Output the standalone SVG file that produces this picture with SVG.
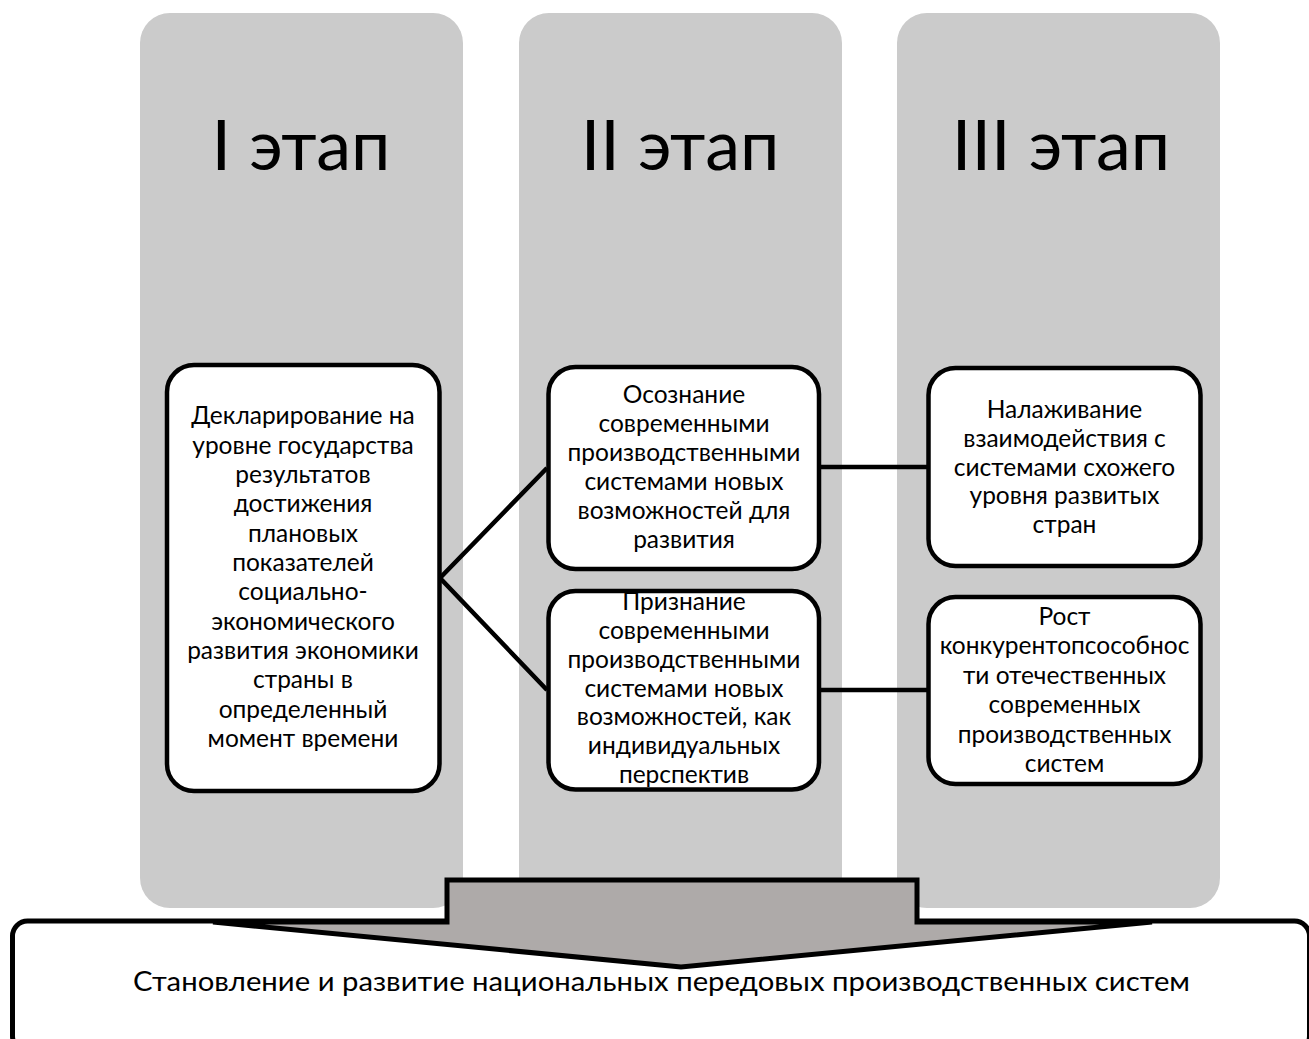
<svg xmlns="http://www.w3.org/2000/svg" width="1309" height="1039" viewBox="0 0 1309 1039">
<style>
.col{fill:#cbcbcb;stroke:none}
.box{fill:#ffffff;stroke:#000000;stroke-width:4.5}
.title{font-family:Lato,"Liberation Sans",sans-serif;font-size:70px;fill:#000;text-anchor:middle}
.t{font-family:Lato,"Liberation Sans",sans-serif;font-size:24.5px;fill:#000;text-anchor:middle}
.bt{font-family:Lato,"Liberation Sans",sans-serif;font-size:27px;fill:#000}
.conn{stroke:#000;stroke-width:4.5;fill:none}
</style>
<rect width="1309" height="1039" fill="#ffffff"/>
<g id="stage1"><rect class="col" x="140" y="13" width="323" height="895" rx="30"/><text class="title" x="301" y="170">I этап</text></g>
<g id="stage2"><rect class="col" x="519" y="13" width="323" height="895" rx="30"/><text class="title" x="680" y="170">II этап</text></g>
<g id="stage3"><rect class="col" x="897" y="13" width="323" height="895" rx="30"/><text class="title" x="1061" y="170">III этап</text></g>
<g id="connectors">
<path class="conn" d="M547,468 L440,578 L547,690"/>
<path class="conn" d="M819,467 L928,467"/>
<path class="conn" d="M819,690 L928,690"/>
</g>
<g id="node-declaration"><rect class="box" x="167" y="365" width="272.5" height="426" rx="27"/>
<text class="t"><tspan x="303" y="424">Декларирование на</tspan><tspan x="303" y="453.5">уровне государства</tspan><tspan x="303" y="483">результатов</tspan><tspan x="303" y="512">достижения</tspan><tspan x="303" y="541.5">плановых</tspan><tspan x="303" y="571">показателей</tspan><tspan x="303" y="600">социально-</tspan><tspan x="303" y="629.5">экономического</tspan><tspan x="303" y="659">развития экономики</tspan><tspan x="303" y="688">страны в</tspan><tspan x="303" y="717.5">определенный</tspan><tspan x="303" y="747">момент времени</tspan></text></g>
<g id="node-awareness"><rect class="box" x="548.5" y="367" width="270.5" height="202" rx="27"/>
<text class="t"><tspan x="684" y="403">Осознание</tspan><tspan x="684" y="432">современными</tspan><tspan x="684" y="461">производственными</tspan><tspan x="684" y="490">системами новых</tspan><tspan x="684" y="519">возможностей для</tspan><tspan x="684" y="548">развития</tspan></text></g>
<g id="node-recognition"><rect class="box" x="548.5" y="591" width="270.5" height="198.5" rx="27"/>
<text class="t"><tspan x="684" y="610">Признание</tspan><tspan x="684" y="639">современными</tspan><tspan x="684" y="668">производственными</tspan><tspan x="684" y="697">системами новых</tspan><tspan x="684" y="725">возможностей, как</tspan><tspan x="684" y="754">индивидуальных</tspan><tspan x="684" y="783">перспектив</tspan></text></g>
<g id="node-interaction"><rect class="box" x="928.5" y="368" width="272" height="198" rx="27"/>
<text class="t"><tspan x="1064.5" y="418">Налаживание</tspan><tspan x="1064.5" y="447">взаимодействия с</tspan><tspan x="1064.5" y="476">системами схожего</tspan><tspan x="1064.5" y="504">уровня развитых</tspan><tspan x="1064.5" y="533">стран</tspan></text></g>
<g id="node-competitiveness"><rect class="box" x="928.5" y="597" width="272" height="187" rx="27"/>
<text class="t"><tspan x="1064.5" y="625">Рост</tspan><tspan x="1064.5" y="654">конкурентопсособнос</tspan><tspan x="1064.5" y="684">ти отечественных</tspan><tspan x="1064.5" y="713">современных</tspan><tspan x="1064.5" y="743">производственных</tspan><tspan x="1064.5" y="772">систем</tspan></text></g>
<g id="result"><rect x="12.5" y="921" width="1297" height="130" rx="15" fill="#ffffff" stroke="#000" stroke-width="5"/>
<text class="bt" x="133" y="991" textLength="1057" lengthAdjust="spacingAndGlyphs">Становление и развитие национальных передовых производственных систем</text></g>
<g id="arrow"><polygon points="447,880 917,880 917,922 1152,922 681,967 213,922 447,922" fill="#aeaaa9" stroke="#000" stroke-width="5" stroke-linejoin="miter"/></g>
</svg>
